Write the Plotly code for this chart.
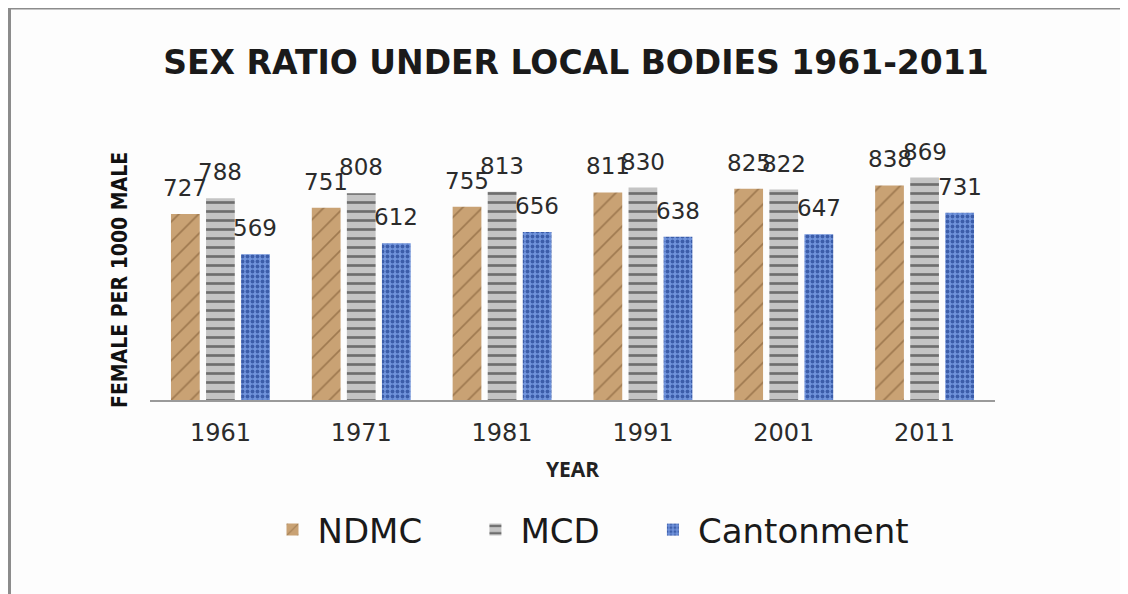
import plotly.graph_objects as go

years = ["1961", "1971", "1981", "1991", "2001", "2011"]
ndmc = [727, 751, 755, 811, 825, 838]
mcd = [788, 808, 813, 830, 822, 869]
cantonment = [569, 612, 656, 638, 647, 731]
series_names = ["NDMC", "MCD", "Cantonment"]

# page body has an 8px margin; work in figure coordinates
W, H = 1120, 586
L, T = 142, 136
plot_w, plot_h = 845, 256
R = W - L - plot_w
B = H - T - plot_h

bargap = 0.253
bargroupgap = 0.18

styles = [
    dict(color="#c9a274", pattern=dict(shape="/", fgcolor="#7a5630", fgopacity=0.55, size=14, solidity=0.12)),
    dict(color="#c4c4c4", pattern=dict(shape="-", fgcolor="#4a4a4a", fgopacity=0.7, size=9, solidity=0.3)),
    dict(color="#7194dc", pattern=dict(shape=".", fgcolor="#2e4f9c", fgopacity=0.8, size=5, solidity=0.45)),
]

# non-breaking padding widens the gap between legend entries
legend_pad = ["\u00a0" * 4, "\u00a0" * 4, ""]

fig = go.Figure()
all_series = [ndmc, mcd, cantonment]
for name, pad, vals, st in zip(series_names, legend_pad, all_series, styles):
    fig.add_trace(go.Bar(
        x=years, y=vals, name=name + pad,
        marker=dict(color=st["color"], line=dict(width=0), pattern=st["pattern"]),
        hovertemplate=name + " %{x}: %{y}<extra></extra>",
    ))

# data labels via annotations positioned from data
n = len(all_series)
slot = (1 - bargap) / n
annotations = []
for i, vals in enumerate(all_series):
    for j, v in enumerate(vals):
        xc = j - (1 - bargap) / 2 + slot * (i + 0.5)
        annotations.append(dict(
            x=xc, y=v, xref="x", yref="y", text=str(v), showarrow=False,
            yanchor="bottom", yshift=11,
            font=dict(family="DejaVu Sans", size=23, color="#2b2b2b"),
        ))

def px_x(px):
    return (px - L) / plot_w

def px_y(py):
    return (H - B - py) / plot_h

# y axis title as rotated text
annotations.append(dict(
    x=px_x(112), y=px_y(272), xref="paper", yref="paper", showarrow=False,
    text="<b>FEMALE PER 1000 MALE</b>", textangle=-90,
    xanchor="center", yanchor="middle",
    font=dict(family="DejaVu Sans Condensed, DejaVu Sans", size=21, color="#111111"),
))

# outer chart border (decorative)
shapes = [
    dict(type="line", xref="paper", yref="paper", x0=px_x(1.5), x1=px_x(1.5), y0=px_y(0), y1=px_y(H + 5),
         line=dict(color="#8c8c8c", width=3)),
    dict(type="line", xref="paper", yref="paper", x0=px_x(0), x1=px_x(W + 5), y0=px_y(0.5), y1=px_y(0.5),
         line=dict(color="#8c8c8c", width=2)),
]

fig.update_layout(
    width=W, height=H,
    margin=dict(l=L, r=R, t=T, b=B, autoexpand=False),
    paper_bgcolor="#fdfdfd", plot_bgcolor="#fdfdfd",
    barmode="group", bargap=bargap, bargroupgap=bargroupgap,
    title=dict(text="<b>SEX RATIO UNDER LOCAL BODIES 1961-2011</b>",
               font=dict(family="DejaVu Sans", size=33, color="#1a1a1a"),
               x=px_x(568), xref="paper", xanchor="center",
               y=1 - 54 / H, yanchor="middle"),
    xaxis=dict(
        type="category",
        showline=True, linecolor="#9a9a9a", linewidth=2,
        ticks="", showgrid=False,
        tickfont=dict(family="DejaVu Sans", size=24, color="#2b2b2b"),
        title=dict(text="<b>YEAR</b>", font=dict(family="Open Sans", size=21, color="#222222"), standoff=17),
        ticklabelstandoff=10,
    ),
    yaxis=dict(
        range=[0, 1000], showticklabels=False, showgrid=False, zeroline=False, showline=False,
    ),
    legend=dict(
        orientation="h", x=px_x(583), xanchor="center", y=px_y(522), yanchor="middle",
        font=dict(family="DejaVu Sans", size=34, color="#1a1a1a"),
        bgcolor="rgba(0,0,0,0)", itemwidth=40,
    ),
    annotations=annotations,
    shapes=shapes,
)

fig.write_html("out.html")
